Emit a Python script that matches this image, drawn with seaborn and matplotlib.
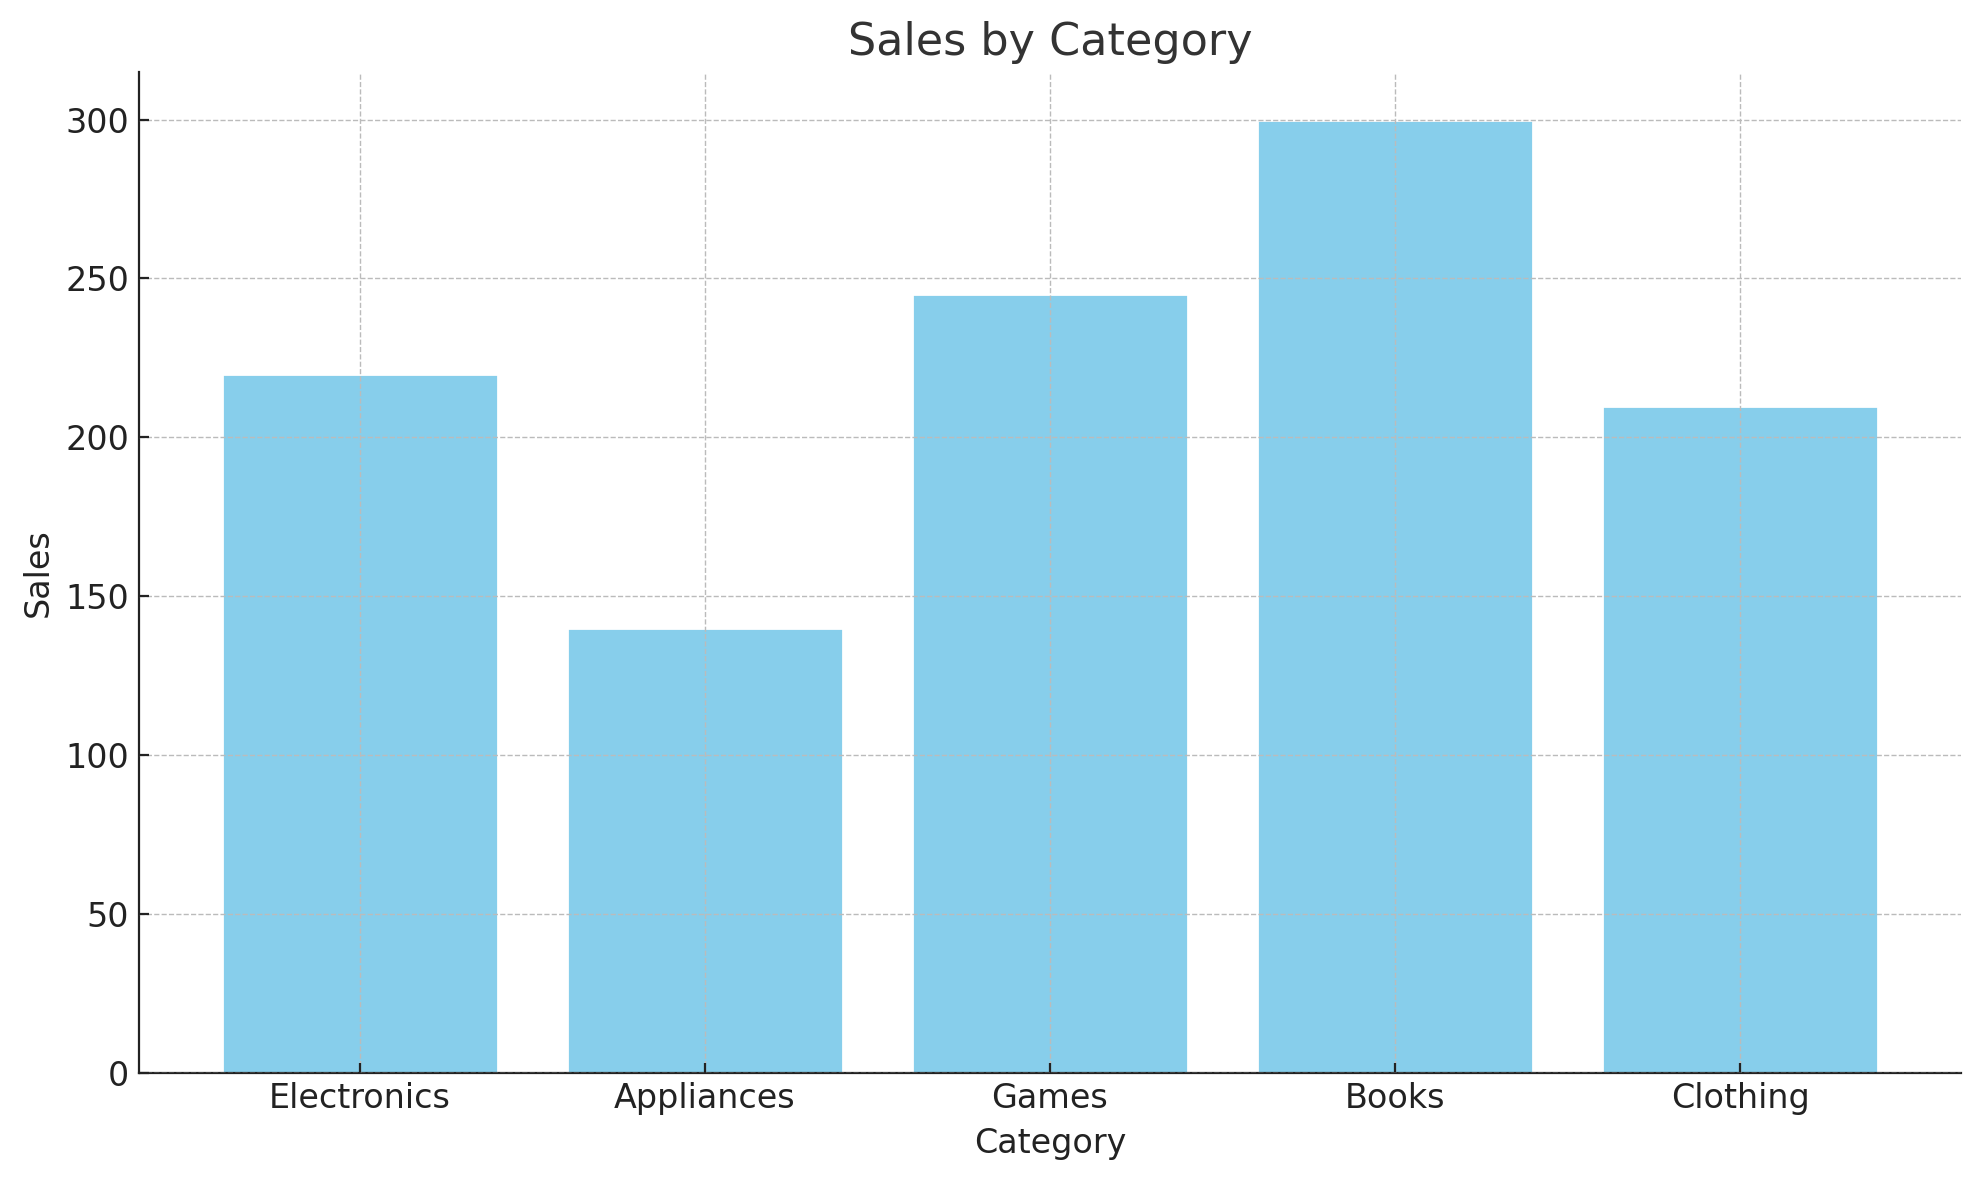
import numpy as np
import pandas as pd
import matplotlib
matplotlib.use('Agg')
import matplotlib.pyplot as plt
import seaborn as sns

categories = ['Electronics', 'Appliances', 'Games', 'Books', 'Clothing']
sales = [220, 140, 245, 300, 210]

sns.set_style('ticks')
plt.rcParams['font.family'] = ['DejaVu Sans']
plt.rcParams['text.color'] = '#222222'
plt.rcParams['axes.labelcolor'] = '#222222'
plt.rcParams['xtick.color'] = '#222222'
plt.rcParams['ytick.color'] = '#222222'
plt.rcParams['axes.edgecolor'] = '#222222'

df = pd.DataFrame({'Category': categories, 'Sales': sales})

fig, ax = plt.subplots(figsize=(9.9, 5.9), dpi=200)
sns.barplot(data=df, x='Category', y='Sales', color='skyblue', saturation=1,
            width=0.8, ax=ax)
ax.set_xlim(-0.64, 4.64)
ax.set_ylim(0, 315)
ax.set_axisbelow(False)
ax.grid(True, linestyle='--', linewidth=0.5, color='#bbbbbb')
ax.set_title('Sales by Category', fontsize=16, color='#333333')
ax.set_xlabel('Category', fontsize=12)
ax.set_ylabel('Sales', fontsize=12)
ax.tick_params(labelsize=12, direction='in', length=3.5)
sns.despine(ax=ax)
fig.subplots_adjust(left=0.0702, right=0.9904, top=0.939, bottom=0.0909)
plt.savefig('out.png', dpi=200)
